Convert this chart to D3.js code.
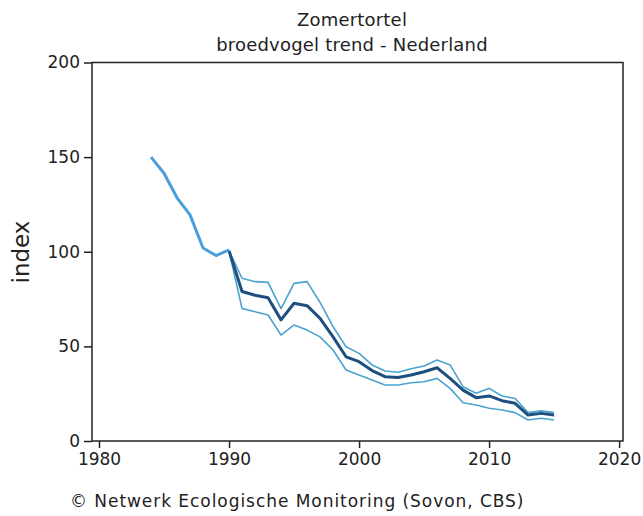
<!DOCTYPE html>
<html><head><meta charset="utf-8">
<script src="https://cdn.jsdelivr.net/npm/d3@7"></script>
<style>
html,body{margin:0;padding:0;background:#fff;}
svg text{font-family:"DejaVu Sans",Verdana,sans-serif;fill:#222;}
</style></head>
<body><svg id="c" width="643" height="516"></svg>
<script>
const titleLines = ["Zomertortel", "broedvogel trend - Nederland"];
const footer = "© Netwerk Ecologische Monitoring (Sovon, CBS)";
const yLabel = "index";
const xTicks = [1980, 1990, 2000, 2010, 2020];
const yTicks = [0, 50, 100, 150, 200];

const earlyYears = [1984, 1985, 1986, 1987, 1988, 1989, 1990];
const earlyIndex = [150, 141.5, 128.5, 119.5, 102, 98, 101];

const years = [1990,1991,1992,1993,1994,1995,1996,1997,1998,1999,2000,2001,2002,2003,2004,2005,2006,2007,2008,2009,2010,2011,2012,2013,2014,2015];
const index = [100.5,79,77,75.7,64,72.8,71.5,64.8,55,44.5,41.9,37.2,34,33.6,34.9,36.6,38.7,33.1,26.9,22.9,23.8,21.3,19.9,13.7,14.6,13.7];
const upper = [100.5,86,84.2,83.8,70,83.3,84.2,73.2,60.4,49.8,46.3,40.2,37,36.3,38.2,39.6,42.8,40.2,28.7,25.2,27.8,23.8,22.5,15,15.9,15];
const lower = [100.5,70,68.3,66.6,56,61.3,58.6,55,48.1,37.5,34.9,32.2,29.6,29.6,30.8,31.3,33.1,27.8,20.2,19,17.3,16.4,15,11.1,12,11.1];

const svg = d3.select("#c");
const mL = 92, mR = 623, mT = 62.5, mB = 441;
const x = d3.scaleLinear().domain([1979.46, 2020.3]).range([mL, mR]);
const y = d3.scaleLinear().domain([0, 200]).range([mB, mT]);

svg.append("rect").attr("x", mL).attr("y", mT).attr("width", mR-mL).attr("height", mB-mT)
  .attr("fill", "none").attr("stroke", "#222").attr("stroke-width", 1.5);

const xAxis = svg.append("g").attr("transform", `translate(0,${mB})`)
  .call(d3.axisBottom(x).tickValues(xTicks).tickFormat(d3.format("d")).tickSize(7).tickPadding(5));
const yAxis = svg.append("g").attr("transform", `translate(${mL},0)`)
  .call(d3.axisLeft(y).tickValues(yTicks).tickSize(8).tickPadding(4));
[xAxis, yAxis].forEach(g => {
  g.select(".domain").remove();
  g.selectAll("line").attr("stroke", "#222").attr("stroke-width", 1.5);
  g.selectAll("text").attr("font-family", "DejaVu Sans").attr("font-size", 17).attr("fill", "#222");
});

const line = d3.line().x(d => x(d[0])).y(d => y(d[1]));

svg.append("path").datum(years.map((yr,i)=>[yr, upper[i]])).attr("d", line)
  .attr("fill","none").attr("stroke","#4aa3cf").attr("stroke-width",1.6).attr("stroke-linejoin","round");
svg.append("path").datum(years.map((yr,i)=>[yr, lower[i]])).attr("d", line)
  .attr("fill","none").attr("stroke","#4aa3cf").attr("stroke-width",1.6).attr("stroke-linejoin","round");
svg.append("path").datum(years.map((yr,i)=>[yr, index[i]])).attr("d", line)
  .attr("fill","none").attr("stroke","#1f4f7e").attr("stroke-width",3).attr("stroke-linejoin","round");
svg.append("path").datum(earlyYears.map((yr,i)=>[yr, earlyIndex[i]])).attr("d", line)
  .attr("fill","none").attr("stroke","#4a9edb").attr("stroke-width",3).attr("stroke-linejoin","round");

svg.append("text").attr("x", 352).attr("y", 26).attr("text-anchor","middle").attr("font-size",18).attr("letter-spacing",0.2).text(titleLines[0]);
svg.append("text").attr("x", 352).attr("y", 51).attr("text-anchor","middle").attr("font-size",18).attr("letter-spacing",0.2).text(titleLines[1]);

svg.append("text").attr("transform","translate(29,252) rotate(-90)").attr("text-anchor","middle")
  .attr("font-size",23).text(yLabel);

svg.append("text").attr("x", 70).attr("y", 507).attr("font-size",17).attr("letter-spacing",0.95).text(footer);
</script></body></html>
